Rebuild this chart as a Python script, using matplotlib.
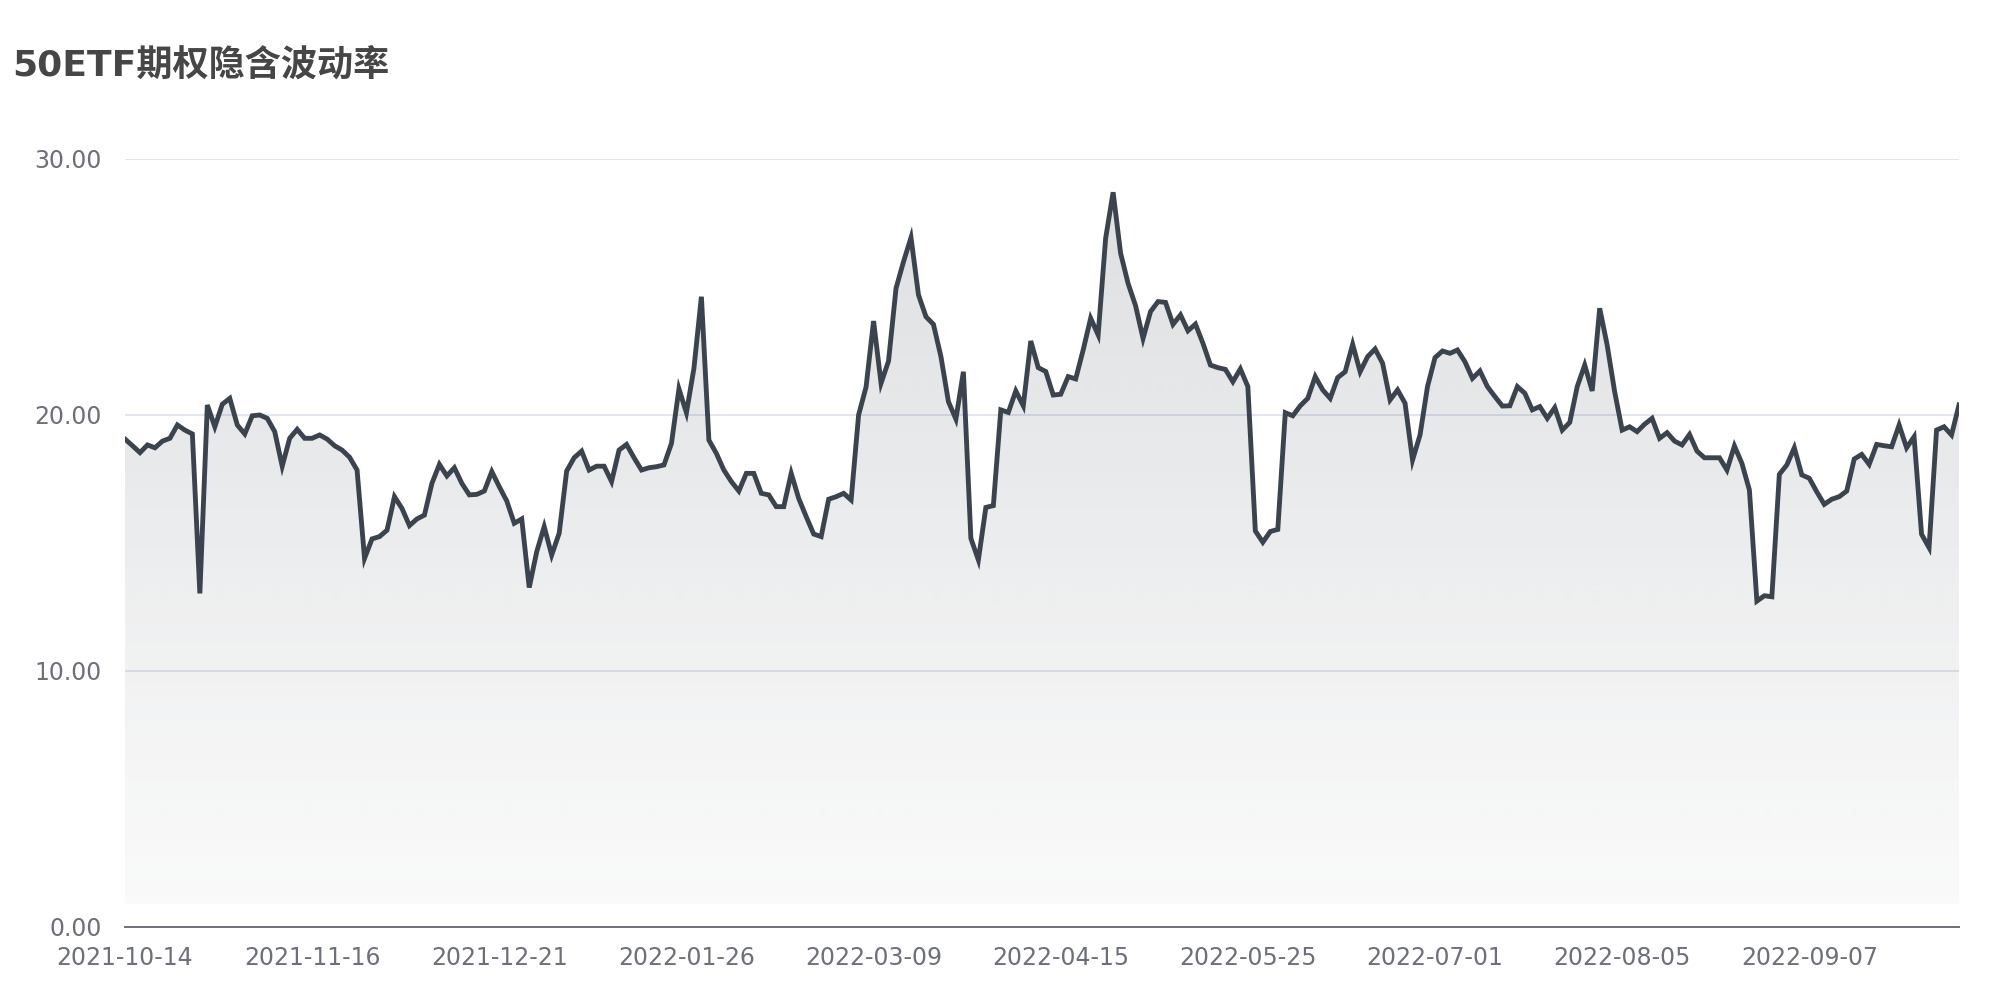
import numpy as np
import matplotlib
matplotlib.use('Agg')
from matplotlib import pyplot as plt

plt.rcParams['font.family'] = ['Noto Sans CJK SC', 'DejaVu Sans']

# 每 25 个交易日一个标签
tick_labels = ['2021-10-14', '2021-11-16', '2021-12-21', '2022-01-26', '2022-03-09',
               '2022-04-15', '2022-05-25', '2022-07-01', '2022-08-05', '2022-09-07']

# 隐含波动率（%）
iv = [19.06, 18.8, 18.53, 18.83, 18.72, 18.98, 19.09, 19.61, 19.41, 19.26,
      13.03, 20.39, 19.54, 20.42, 20.65, 19.61, 19.26, 19.97, 20.0, 19.87,
      19.35, 18.0, 19.09, 19.44, 19.09, 19.09, 19.22, 19.06, 18.8, 18.63,
      18.35, 17.85, 14.4, 15.16, 15.25, 15.5, 16.81, 16.35, 15.68, 15.94,
      16.09, 17.33, 18.07, 17.62, 17.94, 17.33, 16.88, 16.9, 17.03, 17.79,
      17.2, 16.64, 15.77, 15.94, 13.26, 14.66, 15.64, 14.53, 15.38, 17.81,
      18.33, 18.59, 17.85, 18.0, 18.0, 17.4, 18.63, 18.85, 18.33, 17.85,
      17.94, 17.98, 18.05, 18.89, 21.02, 20.09, 21.82, 24.62, 19.02, 18.5,
      17.85, 17.4, 17.03, 17.72, 17.72, 16.94, 16.88, 16.42, 16.42, 17.72,
      16.74, 16.03, 15.35, 15.25, 16.71, 16.81, 16.94, 16.68, 20.0, 21.1,
      23.67, 21.24, 22.11, 24.95, 25.99, 26.93, 24.69, 23.84, 23.54, 22.28,
      20.52, 19.84, 21.69, 15.18, 14.34, 16.39, 16.46, 20.2, 20.1, 20.94,
      20.36, 22.89, 21.85, 21.7, 20.78, 20.81, 21.5, 21.41, 22.54, 23.78,
      23.13, 26.9, 28.7, 26.32, 25.14, 24.27, 22.99, 24.04, 24.43, 24.4,
      23.54, 23.91, 23.29, 23.55, 22.8, 21.95, 21.85, 21.78, 21.3, 21.8,
      21.11, 15.47, 15.03, 15.45, 15.53, 20.09, 19.97, 20.36, 20.65, 21.5,
      20.98, 20.65, 21.46, 21.69, 22.76, 21.69, 22.28, 22.58, 22.02, 20.59,
      20.98, 20.46, 18.24, 19.22, 21.11, 22.24, 22.5, 22.41, 22.54, 22.08,
      21.43, 21.72, 21.11, 20.72, 20.35, 20.36, 21.11, 20.85, 20.2, 20.33,
      19.87, 20.29, 19.41, 19.71, 21.11, 21.95, 20.94, 24.17, 22.73, 20.91,
      19.41, 19.54, 19.35, 19.64, 19.87, 19.09, 19.31, 18.98, 18.83, 19.24,
      18.59, 18.33, 18.33, 18.33, 17.85, 18.79, 18.11, 17.07, 12.73, 12.94,
      12.9, 17.68, 18.05, 18.72, 17.66, 17.53, 17.0, 16.51, 16.71, 16.81,
      17.03, 18.28, 18.46, 18.07, 18.85, 18.8, 18.76, 19.61, 18.72, 19.15,
      15.34, 14.82, 19.41, 19.54, 19.22, 20.39]

line_color = '#3b444e'
x = np.arange(len(iv))

fig = plt.figure(figsize=(20, 10), dpi=100)
ax = fig.add_axes([0.0625, 0.073, 0.917, 0.768])

# 渐变填充
base = 0.9
poly = ax.fill_between(x, iv, base, color='none', lw=0)
rgb = np.array([61, 70, 80]) / 255
grad = np.zeros((256, 1, 4))
grad[:, 0, :3] = rgb
grad[:, 0, 3] = np.linspace(0.026, 0.17, 256)
im = ax.imshow(grad, extent=[0, len(iv) - 1, base, max(iv)], origin='lower',
               aspect='auto', zorder=1, interpolation='bilinear')
im.set_clip_path(poly.get_paths()[0], transform=ax.transData)

ax.plot(x, iv, color=line_color, lw=3.5, solid_joinstyle='miter', zorder=3)

ax.set_xlim(0, len(iv) - 1)
ax.set_ylim(0, 30)
ax.set_yticks([0, 10, 20, 30])
ax.set_yticklabels(['%.2f' % v for v in [0, 10, 20, 30]])
ax.set_xticks(x[::25])
ax.set_xticklabels(tick_labels)
ax.tick_params(axis='both', length=0, labelsize=17, colors='#6e7079',
               labelfontfamily='DejaVu Sans')
ax.tick_params(axis='y', pad=17)
ax.tick_params(axis='x', pad=14)

ax.grid(axis='y', color='#dfe3ee', lw=1.3, zorder=0)
ax.set_axisbelow(True)
for s in ['top', 'right', 'left']:
    ax.spines[s].set_visible(False)
ax.spines['bottom'].set_color('#6e7079')
ax.spines['bottom'].set_linewidth(1.4)
ax.spines['bottom'].set_zorder(4)

fig.text(0.006, 0.935, '50ETF期权隐含波动率', fontsize=26, fontweight='bold',
         color='#464646', va='center', ha='left',
         family=['DejaVu Sans', 'Noto Sans CJK SC'])

fig.savefig('out.png', dpi=100, facecolor='white')
